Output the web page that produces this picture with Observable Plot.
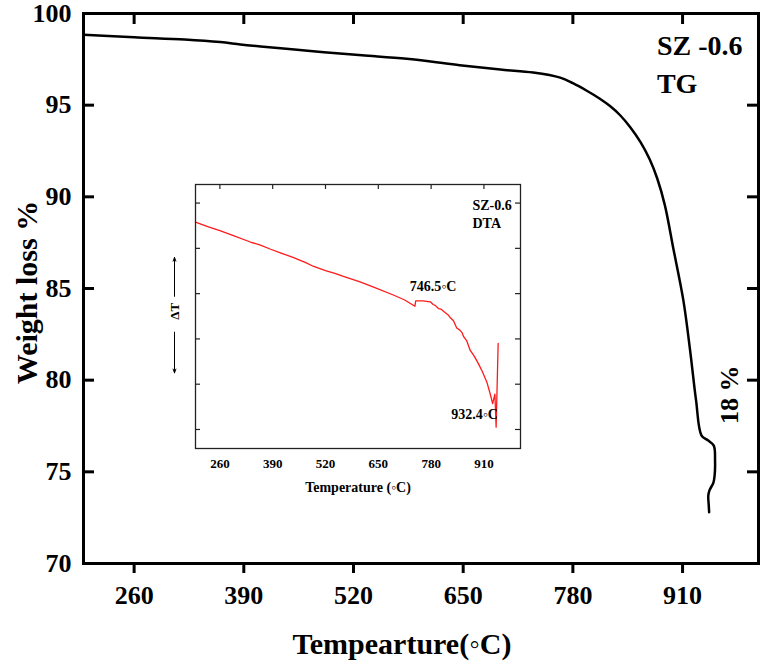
<!DOCTYPE html>
<html><head><meta charset="utf-8">
<script src="https://cdn.jsdelivr.net/npm/d3@7"></script>
<script src="https://cdn.jsdelivr.net/npm/@observablehq/plot@0.6"></script>
<style>
body{margin:0;background:#fff;}
#wrap{position:relative;width:762px;height:662px;}
#main{position:absolute;left:0;top:0;}
#inset{position:absolute;left:150px;top:170px;}
</style></head><body><div id="wrap"><div id="main"></div><div id="inset"></div></div>
<script>
// ---- Main TG curve ----
const mainXTicks = [260, 390, 520, 650, 780, 910];
const mainYTicks = [70, 75, 80, 85, 90, 95, 100];
const tgTemp   = [200, 260, 320, 362, 386, 410, 450, 485, 530, 583, 642, 694, 733, 765, 780, 796, 812, 824, 836, 848, 860, 871, 880, 889, 899, 911, 919, 926, 932.5, 940, 947, 948.5, 948, 946.5, 942, 940.5, 941, 941.5];
const tgWeight = [98.84, 98.7, 98.58, 98.44, 98.31, 98.2, 98.04, 97.89, 97.72, 97.53, 97.2, 96.94, 96.78, 96.5, 96.2, 95.8, 95.35, 94.95, 94.45, 93.8, 93.0, 92.05, 91.0, 89.55, 87.2, 84.34, 81.6, 78.9, 76.98, 76.72, 76.43, 75.6, 74.8, 74.4, 74.0, 73.7, 73.2, 72.8];
const tg = tgTemp.map((t, i) => ({t, w: tgWeight[i]}));
const mainLabels = [
  {t: 879.6, w: 97.71, text: "SZ -0.6"},
  {t: 879.6, w: 95.69, text: "TG"}
];
const lossLabel = [{t: 966, w: 79.2, text: "18 %"}];

// ---- Inset DTA curve ----
const insetXTicks = [260, 390, 520, 650, 780, 910];
const insetYTicks = [0, 1, 2, 3, 4, 5];
const dtaTemp = [200, 230, 260, 290, 335, 360, 385, 409, 440, 470, 491, 520, 545, 564, 605, 640, 687, 715, 740, 742, 760, 778, 785, 790, 798, 804, 812, 822, 828, 835, 843, 850, 856, 860, 868, 876, 886, 896, 906, 917, 925, 931.4, 937, 940, 945];
const dtaVal  = [4.58, 4.48, 4.39, 4.29, 4.14, 4.07, 3.98, 3.90, 3.80, 3.69, 3.60, 3.51, 3.44, 3.38, 3.26, 3.14, 2.97, 2.86, 2.72, 2.84, 2.84, 2.82, 2.76, 2.74, 2.67, 2.66, 2.60, 2.53, 2.46, 2.40, 2.24, 2.20, 2.14, 2.05, 1.95, 1.75, 1.62, 1.46, 1.28, 1.05, 0.80, 0.57, 0.78, 0.05, 1.90];
const dta = dtaTemp.map((t, i) => ({t, v: dtaVal[i]}));
const insetLabels = [
  {t: 881.8, v: 4.84, text: "SZ-0.6"},
  {t: 881.8, v: 4.46, text: "DTA"},
  {t: 727.5, v: 3.06, text: "746.5◦C"},
  {t: 829.4, v: 0.24, text: "932.4◦C"}
];
const deltaArrows = [{a: 2.94, b: 3.80}, {a: 2.15, b: 1.25}];
const deltaLabel = [{v: 2.61, text: "ΔT"}];

const serif = "'Liberation Serif','Times New Roman',serif";

// main
const W = 762, H = 662, mL = 83, mR = 4, mT = 13, mB = 99;
const pH = H - mT - mB, pW = W - mL - mR;
const main = Plot.plot({
  width: W, height: H,
  marginLeft: mL, marginRight: mR, marginTop: mT, marginBottom: mB,
  style: {fontFamily: serif, fontWeight: "bold", background: "transparent", color: "black", overflow: "visible"},
  x: {domain: [200, 1000]},
  y: {domain: [70, 100]},
  marks: [
    Plot.line(tg, {x: "t", y: "w", stroke: "black", strokeWidth: 2.5, curve: "catmull-rom"}),
    Plot.tickX(mainXTicks, {x: d => d, insetBottom: pH - 11, strokeWidth: 3}),
    Plot.tickY(mainYTicks, {y: d => d, insetRight: pW - 11, strokeWidth: 3}),
    Plot.tickY(mainYTicks, {y: d => d, insetLeft: pW - 11, strokeWidth: 3}),
    Plot.axisX(mainXTicks, {anchor: "bottom", tickSize: 10, strokeWidth: 3, tickPadding: 12, fontSize: 26, label: null}),
    Plot.axisY(mainYTicks, {anchor: "left", tickSize: 0, tickPadding: 12, fontSize: 26, label: null}),
    Plot.frame({stroke: "black", strokeWidth: 3}),
    Plot.text(mainLabels, {x: "t", y: "w", text: "text", textAnchor: "start", lineAnchor: "bottom", fontSize: 28}),
    Plot.text(lossLabel, {x: "t", y: "w", text: "text", rotate: -90, fontSize: 26}),
    Plot.text(["Weight loss %"], {frameAnchor: "left", text: d => d, rotate: -90, textAnchor: "middle", lineAnchor: "middle", dx: -56, dy: 4, fontSize: 30}),
    Plot.text(["Tempearture(◦C)"], {frameAnchor: "bottom", text: d => d, textAnchor: "middle", lineAnchor: "bottom", dx: -19, dy: 90, fontSize: 30})
  ]
});
document.getElementById("main").append(main);

// inset
const iW = 380, iH = 330, iL = 45, iR = 10, iT = 14, iB = 52;
const ipH = iH - iT - iB, ipW = iW - iL - iR;
const inset = Plot.plot({
  width: iW, height: iH,
  marginLeft: iL, marginRight: iR, marginTop: iT, marginBottom: iB,
  style: {fontFamily: serif, fontWeight: "bold", background: "transparent", color: "black", overflow: "visible"},
  x: {domain: [200, 1000]},
  y: {domain: [-0.42, 5.41], axis: null},
  marks: [
    Plot.line(dta, {x: "t", y: "v", stroke: "#ff1a1a", strokeWidth: 1.3}),
    Plot.tickX(insetXTicks, {x: d => d, insetBottom: ipH - 5, stroke: "#222", strokeWidth: 1.2}),
    Plot.tickY(insetYTicks, {y: d => d, insetRight: ipW - 5, stroke: "#222", strokeWidth: 1.2}),
    Plot.tickY(insetYTicks, {y: d => d, insetLeft: ipW - 5, stroke: "#222", strokeWidth: 1.2}),
    Plot.axisX(insetXTicks, {anchor: "bottom", tickSize: 0, tickPadding: 10, fontSize: 13, label: null}),
    Plot.frame({stroke: "#222", strokeWidth: 1.3}),
    Plot.text(insetLabels, {x: "t", y: "v", text: "text", textAnchor: "start", lineAnchor: "bottom", fontSize: 14}),
    Plot.text(deltaLabel, {x: () => 200, y: "v", text: "text", rotate: -90, dx: -21, fontSize: 13}),
    Plot.arrow(deltaArrows, {x1: () => 200, x2: () => 200, y1: "a", y2: "b", dx: -21, stroke: "black", strokeWidth: 1, headLength: 6, headAngle: 40}),
    Plot.text(["Temperature (◦C)"], {frameAnchor: "bottom", text: d => d, textAnchor: "middle", lineAnchor: "bottom", dy: 43, fontSize: 14})
  ]
});
document.getElementById("inset").append(inset);
</script></body></html>
